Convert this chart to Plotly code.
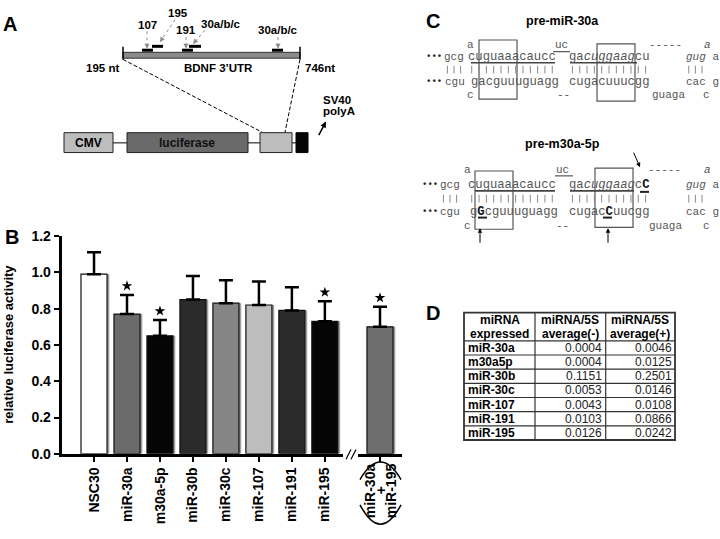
import plotly.graph_objects as go

W, H = 720, 539

# ---------------- data ----------------
categories = ["NSC30", "miR-30a", "m30a-5p", "miR-30b", "miR-30c", "miR-107", "miR-191", "miR-195"]
activity = [0.99, 0.77, 0.65, 0.85, 0.83, 0.82, 0.79, 0.73]
sem = [0.12, 0.105, 0.087, 0.13, 0.127, 0.13, 0.128, 0.11]
significant = [False, True, True, False, False, False, False, True]
bar_colors = ["#ffffff", "#6b6b6b", "#050505", "#2b2b2b", "#858585", "#bdbdbd", "#2b2b2b", "#050505"]

combo_category = ["miR-30a + miR-195"]
combo_activity = [0.70]
combo_sem = [0.11]
combo_significant = [True]
combo_colors = ["#6e6e6e"]

y_ticks = [0.0, 0.2, 0.4, 0.6, 0.8, 1.0, 1.2]

table_header_top = ["miRNA", "miRNA/5S", "miRNA/5S"]
table_header_bottom = ["expressed", "average(-)", "average(+)"]
table_mirna = ["miR-30a", "m30a5p", "miR-30b", "miR-30c", "miR-107", "miR-191", "miR-195"]
table_avg_minus = ["0.0004", "0.0004", "0.1151", "0.0053", "0.0043", "0.0103", "0.0126"]
table_avg_plus = ["0.0046", "0.0125", "0.2501", "0.0146", "0.0108", "0.0866", "0.0242"]


def X(px):
    return px / W


def Y(py):
    return 1 - py / H


SANS = "Liberation Sans"
MONO = "Liberation Mono"

fig = go.Figure()

# ---------------- panel B : bars ----------------
bw = 0.79
for cats, vals, errs, cols, xa in [
    (categories, activity, sem, bar_colors, "x"),
    (combo_category, combo_activity, combo_sem, combo_colors, "x2"),
]:
    fig.add_trace(go.Bar(x=cats, y=vals, width=bw, offset=-bw / 2 + 0.07,
                         marker=dict(color="#a0a0a0", line=dict(width=0)),
                         xaxis=xa, yaxis="y", hoverinfo="skip"))
    fig.add_trace(go.Bar(x=cats, y=vals, width=bw,
                         marker=dict(color=cols, line=dict(color="#111111", width=1.2)),
                         error_y=dict(type="data", array=errs, arrayminus=[0] * len(errs),
                                      symmetric=False, thickness=2.5, width=7, color="black"),
                         xaxis=xa, yaxis="y"))

star_x = [c for c, s in zip(categories, significant) if s]
star_y = [a + e + 0.05 for a, e, s in zip(activity, sem, significant) if s]
fig.add_trace(go.Scatter(x=star_x, y=star_y, mode="markers", xaxis="x", yaxis="y",
                         marker=dict(symbol="star", size=8, color="black")))
cstar_x = [c for c, s in zip(combo_category, combo_significant) if s]
cstar_y = [a + e + 0.05 for a, e, s in zip(combo_activity, combo_sem, combo_significant) if s]
fig.add_trace(go.Scatter(x=cstar_x, y=cstar_y, mode="markers", xaxis="x2", yaxis="y",
                         marker=dict(symbol="star", size=8, color="black")))

axis_common = dict(showline=True, linewidth=3, linecolor="black", ticks="outside",
                   ticklen=5, tickwidth=2, tickcolor="black", showgrid=False, zeroline=False,
                   tickfont=dict(family=SANS, size=14, color="black", weight="bold"))

fig.update_layout(
    xaxis=dict(domain=[X(61.7), X(343)], anchor="y", type="category",
               categoryorder="array", categoryarray=categories,
               range=[-0.98, 7.55], tickangle=-90, **axis_common),
    xaxis2=dict(domain=[X(358), X(402)], anchor="y", type="category",
                range=[-0.667, 0.667], showticklabels=False, **axis_common),
    yaxis=dict(domain=[Y(459.5), Y(235)], anchor="x", range=[0, 1.2],
               tickvals=y_ticks, ticktext=[f"{v:.1f}" for v in y_ticks], **axis_common),
)

shapes = []
annotations = []


def line(x0, y0, x1, y1, color="black", width=1, dash=None):
    d = dict(type="line", xref="paper", yref="paper", x0=X(x0), y0=Y(y0), x1=X(x1), y1=Y(y1),
             line=dict(color=color, width=width))
    if dash:
        d["line"]["dash"] = dash
    shapes.append(d)


def rect(x0, y0, x1, y1, fill="white", color="black", width=1):
    shapes.append(dict(type="rect", xref="paper", yref="paper", x0=X(x0), y0=Y(y0), x1=X(x1), y1=Y(y1),
                       fillcolor=fill, line=dict(color=color, width=width)))


def text(x, y, s, size=11.5, bold=True, color="black", family=SANS, xanchor="center", angle=0):
    annotations.append(dict(xref="paper", yref="paper", x=X(x), y=Y(y), text=s, showarrow=False,
                            xanchor=xanchor, yanchor="middle", textangle=angle, borderpad=0,
                            font=dict(family=family, size=size, color=color,
                                      weight="bold" if bold else "normal")))


def arrow(x, y, ax, ay, color="black", width=1, size=1.0):
    annotations.append(dict(xref="paper", yref="paper", x=X(x), y=Y(y), text="", showarrow=True,
                            ax=ax, ay=ay, axref="pixel", ayref="pixel", arrowhead=2,
                            arrowsize=size, arrowwidth=width, arrowcolor=color))


# panel letters
text(10, 16, "A", size=20)
text(12, 236, "B", size=20)
text(433, 13, "C", size=20)
text(433, 314, "D", size=20)

# ---------------- panel A ----------------
rect(123, 45.7, 300, 51.7, fill="#8a8a8a", color="#333333", width=1)
line(123, 40, 123, 53, width=1.5)
line(300, 40, 300, 53, width=1.5)
for (x0, x1, yy) in [(142, 153, 43.5), (152, 163, 39.5), (182, 193, 43.5), (189, 201, 39.5), (272, 283, 43.5)]:
    line(x0, yy, x1, yy, width=3)
for (x0, y0, x1, y1) in [(147, 24, 147, 42), (175, 12, 160, 35), (186, 30, 186, 42), (205, 23, 193, 37), (278, 30, 278, 42)]:
    line(x0, y0, x1, y1, color="#8c8c8c", width=1, dash="dot")
    dx, dy = x1 - x0, y1 - y0
    n = (dx * dx + dy * dy) ** 0.5
    arrow(x1, y1, -dx / n * 5, -dy / n * 5, color="#8c8c8c", width=1, size=1.0)
text(147, 18, "107")
text(178, 5, "195")
text(186, 23, "191")
text(221, 17, "30a/b/c")
text(278, 23, "30a/b/c")
text(102, 62, "195 nt")
text(219, 62, "BDNF 3\u2019UTR")
text(320, 62, "746nt")
line(123, 53, 262, 128, dash="4px,2px", width=1)
line(300, 53, 285, 128, dash="4px,2px", width=1)
line(113, 139, 127, 139, width=1)
line(248, 139, 260, 139, width=1)
line(292, 139, 296, 139, width=1)
rect(64, 128.5, 113, 149, fill="#bdbdbd", color="#222222")
rect(127, 128.5, 248, 149, fill="#6a6a6a", color="#222222")
rect(260, 128.5, 292, 149, fill="#bdbdbd", color="#222222")
rect(296, 128.5, 308, 149, fill="#050505", color="#050505")
text(88, 139, "CMV", size=12)
text(187, 139, "luciferase", size=12, color="#111111")
text(322, 95, "SV40", xanchor="left")
text(322, 106, "polyA", xanchor="left")
arrow(326, 117, -8, 15, width=1.5, size=0.8)

# ---------------- panel B extras ----------------
text(9, 347, "relative luciferase activity", size=13, angle=-90)
line(346, 465, 351, 455, width=1.2)
line(351, 465, 356, 455, width=1.2)
combo_parts = [p.strip() for p in combo_category[0].split(" ")]
for part, cx in zip(combo_parts, [370, 381, 391]):
    text(cx, 497, part, size=14, angle=-90)
shapes.append(dict(type="path", xref="paper", yref="paper",
                   path=f"M {X(360)},{Y(486)} Q {X(380.5)},{Y(450)} {X(401)},{Y(486)}",
                   line=dict(color="black", width=1.5)))
shapes.append(dict(type="path", xref="paper", yref="paper",
                   path=f"M {X(360)},{Y(512)} Q {X(380.5)},{Y(552)} {X(401)},{Y(512)}",
                   line=dict(color="black", width=1.5)))

# ---------------- panel C ----------------
SEQ = "#555555"
L = 12.2   # long segment font size
S = 11     # short segment font size
CW = 0.6   # monospace advance per font size


def seq(x, y, s, size=11.5, color=SEQ, xanchor="center"):
    text(x, y, s, size=size, bold=False, color=color, family=MONO, xanchor=xanchor)


def pair_bars(center, nchars, size, first, count, y):
    w = CW * size
    for i in range(first, first + count):
        xc = center + (i - (nchars - 1) / 2) * w
        line(xc, y - 4, xc, y + 4, color="#8a8a8a", width=1)


def structure(rows, dots_x, boxes, thick, uc_line, title, title_y):
    text(562, title_y, title, size=12.5)
    r1, r2, r3, r4, r5 = rows
    seq(dots_x, r2, "<b>\u2022\u2022\u2022</b>", size=9, color="#222222")
    seq(dots_x, r4, "<b>\u2022\u2022\u2022</b>", size=9, color="#222222")
    for b in boxes:
        rect(*b, fill="rgba(0,0,0,0)", color="#555555", width=1.2)
    for (x0, x1, yy) in thick:
        line(x0, yy, x1, yy, color="#444444", width=1.6)
    line(*uc_line, color="#555555", width=1.2)


structure((38, 51, 63, 76, 90), 434,
          [(479, 33, 517, 94), (597, 37, 635, 96)],
          [(471, 555, 56.5), (570, 637, 56.5)],
          (553, 45, 570, 45), "pre-miR-30a", 13)
seq(470, 38, "a", S); seq(561, 38, "uc", S); seq(665, 38, "-----", S); seq(707, 38, "<i>a</i>", S)
seq(454, 51, "gcg", S); seq(512, 51, "cuguaaacaucc", L); seq(609, 51, "ga<i>cuggaag</i>cu", L)
seq(702, 51, "<i>gug</i> a", S)
pair_bars(454, 3, S, 0, 3, 63.5); pair_bars(512, 12, L, 0, 12, 63.5)
pair_bars(609, 11, L, 0, 11, 63.5); pair_bars(702, 5, S, 0, 3, 63.5)
seq(455, 76, "cgu", S); seq(515, 76, "gacguuuguagg", L); seq(609, 76, "cugacuuucgg", L)
seq(702, 76, "cac g", S)
seq(470, 90, "c", S); seq(563, 90, "--", S); seq(668, 90, "guaga", S); seq(706, 90, "c", S)

structure((167, 182, 196, 210, 225), 430,
          [(475, 168, 513, 228), (595, 165, 633, 226)],
          [(475, 555, 188.5), (570, 634, 188.5)],
          (555, 173, 573, 173), "pre-m30a-5p", 140)
seq(467, 167, "a", S); seq(562, 167, "uc", S); seq(664, 167, "-----", S); seq(707, 167, "<i>a</i>", S)
seq(450, 182, "gcg", S); seq(512, 182, "cuguaaacaucc", L)
seq(609, 182, "ga<i>cuggaag</i>c<b><span style='color:#111'>C</span></b>", L)
seq(702, 182, "<i>gug</i> a", S)
pair_bars(450, 3, S, 0, 3, 196.5); pair_bars(512, 12, L, 0, 12, 196.5)
pair_bars(609, 11, L, 0, 11, 196.5); pair_bars(702, 5, S, 0, 3, 196.5)
seq(450, 210, "cgu", S); seq(514, 210, "g<b><span style='color:#111'>G</span></b>cguuuguagg", L)
seq(609, 210, "cugac<b><span style='color:#111'>C</span></b>uucgg", L)
seq(702, 210, "cac g", S)
seq(467, 225, "c", S); seq(562, 225, "--", S); seq(665, 225, "guaga", S); seq(706, 225, "c", S)
line(478, 216, 487, 216, color="#222222", width=2)
line(603, 216, 612, 216, color="#222222", width=2)
line(640, 189.5, 649, 189.5, color="#222222", width=2)
arrow(480, 227, 0, 16, width=1, size=0.9)
arrow(608, 227, 0, 16, width=1, size=0.9)
arrow(640, 164, -7, -16, width=1, size=0.9)

# ---------------- panel D : table ----------------
t_left, t_right, t_top = 464, 675, 314
col_edges = [464, 535, 605.7, 675]
head_h, row_h = 29, 14.6
t_bottom = t_top + head_h + row_h * len(table_mirna)
rect(t_left, t_top, t_right, t_bottom, fill="white", color="#333333", width=1.8)
for xe in col_edges[1:-1]:
    line(xe, t_top, xe, t_bottom, color="#333333", width=1.2)
for i in range(len(table_mirna)):
    yl = t_top + head_h + i * row_h
    line(t_left, yl, t_right, yl, color="#333333", width=1.2)
for j in range(3):
    cx = (col_edges[j] + col_edges[j + 1]) / 2
    text(cx, t_top + 7.5, table_header_top[j], size=12)
    text(cx, t_top + 21.5, table_header_bottom[j], size=12)
for i, (m, a, b) in enumerate(zip(table_mirna, table_avg_minus, table_avg_plus)):
    yc = t_top + head_h + (i + 0.5) * row_h
    text(col_edges[0] + 2.5, yc, m, size=12, xanchor="left")
    text(col_edges[1] + 67.5, yc, a, size=12, bold=False, color="#222222", xanchor="right")
    text(col_edges[2] + 66.8, yc, b, size=12, bold=False, color="#222222", xanchor="right")

fig.update_layout(
    width=W, height=H, margin=dict(l=0, r=0, t=0, b=0),
    paper_bgcolor="white", plot_bgcolor="white",
    showlegend=False, barmode="overlay",
    shapes=shapes, annotations=annotations,
    font=dict(family=SANS, color="black"),
)

fig.write_html("out.html", config={"displayModeBar": False},
               post_script="document.body.style.margin='0px';document.body.style.overflow='hidden';")
